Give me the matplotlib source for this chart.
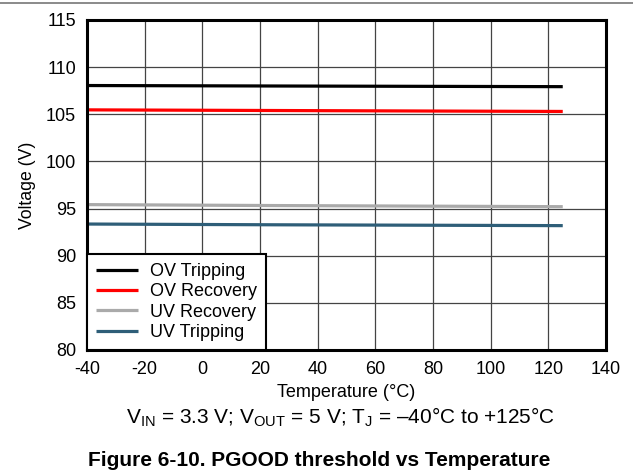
import numpy as np
import matplotlib
matplotlib.use('Agg')
import matplotlib.pyplot as plt
from matplotlib.lines import Line2D

plt.rcParams['font.family'] = ['Liberation Sans', 'DejaVu Sans']
plt.rcParams['mathtext.fontset'] = 'custom'
plt.rcParams['mathtext.rm'] = 'Liberation Sans'
plt.rcParams['mathtext.it'] = 'Liberation Sans:italic'
plt.rcParams['axes.unicode_minus'] = False

# Temperaturen und Schwellwerte
temps = [-40, 25, 125]
ov_trip = [108.05, 108.0, 107.93]
ov_rec = [105.47, 105.4, 105.3]
uv_rec = [95.42, 95.32, 95.2]
uv_trip = [93.36, 93.28, 93.19]

series = [
    ('OV Tripping', ov_trip, '#000000'),
    ('OV Recovery', ov_rec, '#ff0000'),
    ('UV Recovery', uv_rec, '#aaaaaa'),
    ('UV Tripping', uv_trip, '#2e5e78'),
]

fig = plt.figure(figsize=(6.33, 4.72), dpi=100)
ax = fig.add_axes([87 / 633, 1 - 350 / 472, (606 - 87) / 633, (350 - 20) / 472])

for name, vals, col in series:
    ax.plot(temps, vals, color=col, lw=2.3, label=name, solid_capstyle='butt')

ax.set_xlim(-40, 140)
ax.set_ylim(80, 115)
ax.set_xticks(np.arange(-40, 141, 20))
ax.set_yticks(np.arange(80, 116, 5))
ax.grid(True, color='#444444', lw=0.9)
ax.set_axisbelow(True)
ax.tick_params(length=0, labelsize=13, pad=8)
for s in ax.spines.values():
    s.set_linewidth(2.2)
    s.set_color('black')

ax.set_xlabel('Temperature (°C)', fontsize=13, labelpad=4)
ax.set_ylabel('Voltage (V)', fontsize=12.7, labelpad=7)

leg = ax.legend(loc='lower left', bbox_to_anchor=(0, 0), borderaxespad=0,
                fontsize=13, fancybox=False, framealpha=1, edgecolor='black',
                handlelength=2.3, handletextpad=0.7, labelspacing=0.18,
                borderpad=0.5)
leg.get_frame().set_linewidth(1.5)

fig.text(341 / 633, 1 - 417 / 472,
         r'V$_{\mathrm{IN}}$ = 3.3 V; V$_{\mathrm{OUT}}$ = 5 V; T$_{\mathrm{J}}$ = –40°C to +125°C',
         ha='center', va='center', fontsize=15)
fig.text(319 / 633, 1 - 460 / 472, 'Figure 6-10. PGOOD threshold vs Temperature',
         ha='center', va='center', fontsize=15, fontweight='bold')

fig.add_artist(Line2D([0, 1], [1 - 3 / 472, 1 - 3 / 472], color='#777777', lw=1.2,
                      transform=fig.transFigure))

fig.savefig('out.png', dpi=100)
